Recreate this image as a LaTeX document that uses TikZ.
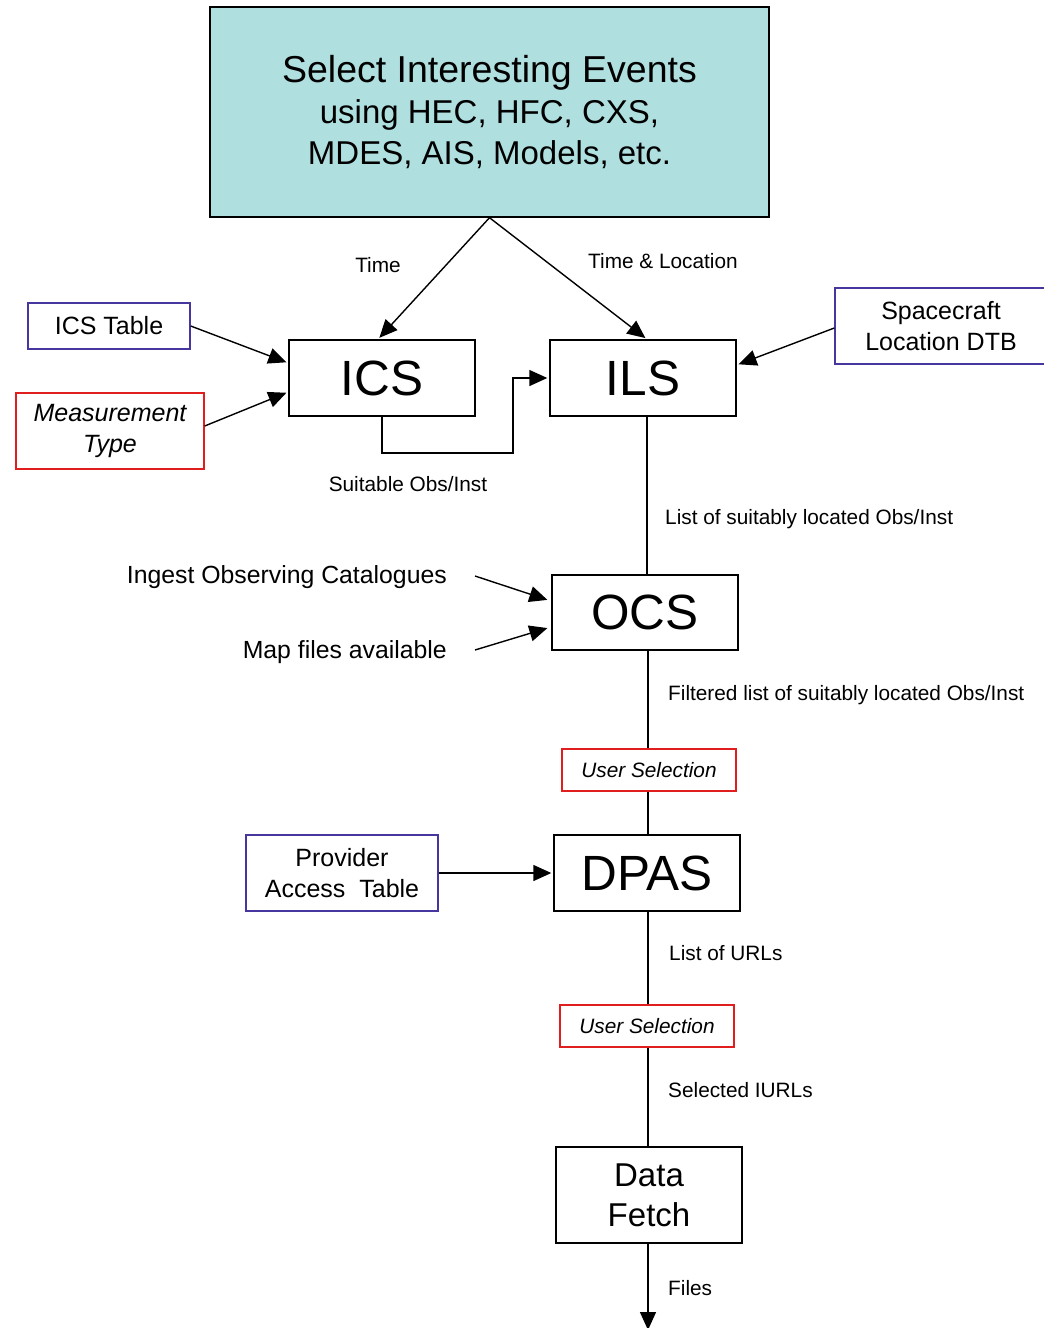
\documentclass[tikz,border=0pt]{standalone}
\usepackage{fontspec}
\setmainfont{Liberation Sans}
\usetikzlibrary{arrows.meta,calc}
\definecolor{topfill}{RGB}{176,223,224}
\definecolor{bluebd}{RGB}{70,55,160}
\definecolor{redbd}{RGB}{225,30,30}
\tikzset{
  base/.style={draw=black,line width=1.4pt,inner sep=0pt,align=center},
  mainbox/.style={base,minimum width=186pt,minimum height=76pt,font=\fontsize{49.5}{52}\selectfont},
  bluebox/.style={base,draw=bluebd,font=\fontsize{25}{30.5}\selectfont},
  redbox/.style={base,draw=redbd,font=\fontsize{25}{30.5}\selectfont\itshape},
  lbl/.style={inner sep=0pt,font=\fontsize{20.8}{24}\selectfont},
  side/.style={inner sep=0pt,font=\fontsize{24.8}{28}\selectfont},
  arr/.style={line width=1.4pt,-{Triangle[length=18pt,width=16pt]},shorten >=2pt},
  ln/.style={line width=1.4pt}
}
\begin{document}
\begin{tikzpicture}[x=1pt,y=-1pt]
\useasboundingbox (0,0) rectangle (1044,1328);
% top box
\node[base,fill=topfill,minimum width=559pt,minimum height=210pt,font=\fontsize{33}{41}\selectfont] (top) at (489.5,112)
  {{\fontsize{37.5}{41}\selectfont Select Interesting Events}\\using HEC, HFC, CXS,\\MDES, AIS, Models, etc.};
% main boxes
\node[mainbox] (ics) at (382,378) {ICS};
\node[mainbox] (ils) at (643,378) {ILS};
\node[mainbox,minimum height=75pt] (ocs) at (645,612.5) {OCS};
\node[mainbox] (dpas) at (647,873) {DPAS};
\node[mainbox,minimum height=96pt,font=\fontsize{33}{40}\selectfont] (fetch) at (649,1195) {Data\\Fetch};
% side boxes
\node[bluebox,minimum width=162pt,minimum height=46pt] (icstab) at (109,326) {ICS Table};
\node[redbox,minimum width=188pt,minimum height=76pt] (meas) at (110,431) {Measurement\\Type};
\node[bluebox,minimum width=212pt,minimum height=76pt] (sc) at (941,326) {Spacecraft\\Location DTB};
\node[bluebox,minimum width=192pt,minimum height=76pt] (pat) at (342,873) {Provider\\Access~~Table};
\node[redbox,minimum width=174pt,minimum height=42pt,font=\fontsize{20.8}{24}\selectfont\itshape] (us1) at (649,770) {User Selection};
\node[redbox,minimum width=174pt,minimum height=42pt,font=\fontsize{20.8}{24}\selectfont\itshape] (us2) at (647,1026) {User Selection};
% free texts
\node[side,anchor=east] (ingest) at (447,577) {Ingest Observing Catalogues};
\node[side,anchor=east] (map) at (447,652) {Map files available};
\coordinate (ingestend) at (475,576);
\coordinate (mapend) at (475,650);
\coordinate (bend) at (513,453);
\coordinate (filesend) at (648,1330);
% connectors
\draw[arr] (top.south) -- ($(ics.north)+(-4,0)$);
\draw[arr] (top.south) -- ($(ils.north)+(4,0)$);
\draw[arr] (icstab.east) -- ($(ics.west)+(0,-15)$);
\draw[arr] ($(meas.east)+(0,-5)$) -- ($(ics.west)+(0,14)$);
\draw[arr] ($(sc.west)+(0,2)$) -- ($(ils.east)+(0,-13)$);
\draw[arr] (ics.south) |- (bend) |- (ils.west);
\draw[ln] ($(ils.south)+(4,0)$) -- ($(ocs.north)+(2,0)$);
\draw[arr] (ingestend) -- ($(ocs.west)+(-2,-12)$);
\draw[arr] (mapend) -- ($(ocs.west)+(-2,15)$);
\draw[ln] ($(ocs.south)+(3,0)$) -- ($(us1.north)+(-1,0)$);
\draw[ln] ($(us1.south)+(-1,0)$) -- ($(dpas.north)+(1,0)$);
\draw[arr] (pat.east) -- (pat.east -| dpas.west);
\draw[ln] ($(dpas.south)+(1,0)$) -- ($(us2.north)+(1,0)$);
\draw[ln] ($(us2.south)+(1,0)$) -- ($(fetch.north)+(-1,0)$);
\draw[line width=1.4pt,-{Triangle[length=18pt,width=16pt]}] ($(fetch.south)+(-1,0)$) -- (filesend);
% labels
\node[lbl] (ltime) at (378,265) {Time};
\node[lbl] (ltl) at (663,261) {Time \& Location};
\node[lbl] (lsuit) at (408,484) {Suitable Obs/Inst};
\node[lbl,anchor=west] (llist) at (665,519) {List of suitably located Obs/Inst};
\node[lbl,anchor=west] (lfilt) at (668,695) {Filtered list of suitably located Obs/Inst};
\node[lbl,anchor=west] (lurl) at (669,953) {List of URLs};
\node[lbl,anchor=west] (lsel) at (668,1090) {Selected IURLs};
\node[lbl,anchor=west] (lfiles) at (668,1288) {Files};
\end{tikzpicture}
\end{document}
